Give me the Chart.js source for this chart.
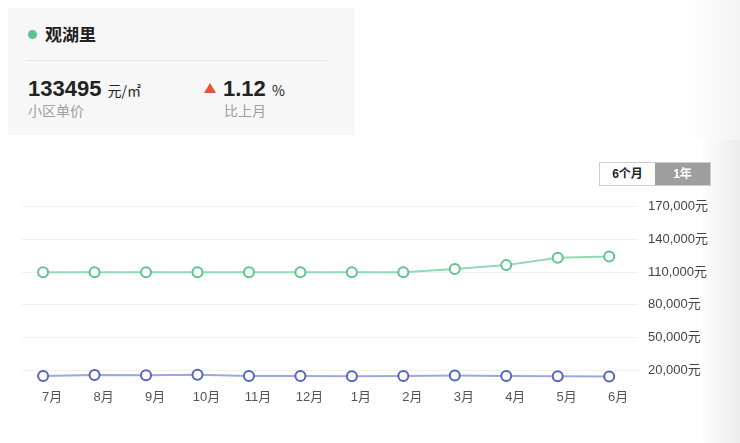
<!DOCTYPE html>
<html>
<head>
<meta charset="utf-8">
<script src="https://cdn.jsdelivr.net/npm/chart.js@4"></script>
<style>
  body { margin: 0; width: 740px; height: 443px; background: #fff; position: relative; overflow: hidden;
         font-family: "Liberation Sans", "Noto Sans CJK SC", sans-serif; color: #222; }
  .card { position: absolute; left: 8px; top: 8px; width: 346px; height: 127px; background: #f7f7f7; }
  .dot { position: absolute; left: 20px; top: 22px; width: 9px; height: 9px; border-radius: 50%; background: #5ec48f; }
  .name { position: absolute; left: 37px; top: 14px; font-size: 17px; font-weight: bold; font-family: "Noto Sans CJK SC", sans-serif; line-height: 24px; }
  .sep { position: absolute; left: 19px; top: 52px; width: 300px; height: 1px; background: #e8e8e8; }
  .big { position: absolute; top: 68px; font-size: 22px; font-weight: bold; line-height: 26px; }
  .unit { font-size: 14px; font-weight: normal; font-family: "Noto Sans CJK SC", sans-serif; }
  .sub { position: absolute; top: 93px; font-size: 14px; color: #a0a0a0; line-height: 18px; font-family: "Noto Sans CJK SC", sans-serif; }
  .tri { position: absolute; left: 196px; top: 75px; width: 0; height: 0;
         border-left: 6px solid transparent; border-right: 6px solid transparent; border-bottom: 10px solid #e5553e; }
  .tabs { position: absolute; left: 599px; top: 162px; height: 22px; border: 1px solid #ccc; display: flex; font-size: 12px; font-weight: bold; }
  .tabs div { width: 55px; text-align: center; line-height: 22px; }
  .tabs .on { background: #9e9e9e; color: #fff; }
  .shade { position: absolute; top: 140px; right: 0; width: 40px; height: 303px; background: linear-gradient(to right, rgba(240,240,240,0), #ececec); }
  .shade2 { position: absolute; top: 0; right: 0; width: 50px; height: 140px; background: linear-gradient(to right, rgba(245,245,245,0), #f3f3f3); }
  #wrap { position: absolute; left: 0; top: 189px; width: 740px; height: 214px; }
</style>
</head>
<body>
<div class="shade2"></div>
<div class="shade"></div>
<div class="card">
  <div class="dot"></div>
  <div class="name">观湖里</div>
  <div class="sep"></div>
  <div class="big" style="left:20px">133495 <span class="unit">元/㎡</span></div>
  <div class="sub" style="left:20px">小区单价</div>
  <div class="tri"></div>
  <div class="big" style="left:215px">1.12 <span class="unit">%</span></div>
  <div class="sub" style="left:216px">比上月</div>
</div>
<div class="tabs"><div>6个月</div><div class="on">1年</div></div>
<div id="wrap"><canvas id="priceChart"></canvas></div>
<script>
// 月份与价格数据
const months = ["7月", "8月", "9月", "10月", "11月", "12月", "1月", "2月", "3月", "4月", "5月", "6月"];
const communityPrice = [110000, 110000, 110000, 110000, 110000, 110000, 110000, 110000, 113000, 116500, 123300, 124500];
const areaPrice = [14800, 15700, 15500, 16000, 14700, 14700, 14600, 14800, 15300, 14800, 14500, 14300];
const yTicks = [20000, 50000, 80000, 110000, 140000, 170000];

const axisFont = { size: 13, family: "'Liberation Sans', 'Noto Sans CJK SC', sans-serif" };

const ctx = document.getElementById("priceChart").getContext("2d");
new Chart(ctx, {
  type: "line",
  data: {
    datasets: [
      {
        data: communityPrice.map((v, i) => ({ x: i, y: v })),
        borderColor: "#8fdab2",
        borderWidth: 2,
        pointRadius: 5,
        pointBorderWidth: 2,
        pointBorderColor: "#5ec48f",
        pointBackgroundColor: "#fff",
        tension: 0,
      },
      {
        data: areaPrice.map((v, i) => ({ x: i, y: v })),
        borderColor: "#9da8df",
        borderWidth: 2,
        pointRadius: 5,
        pointBorderWidth: 2,
        pointBorderColor: "#5664b8",
        pointBackgroundColor: "#fff",
        tension: 0,
      },
    ],
  },
  options: {
    responsive: true,
    maintainAspectRatio: false,
    animation: false,
    layout: { padding: { left: 22, right: 32, top: 10, bottom: 0 } },
    plugins: { legend: { display: false }, tooltip: { enabled: false } },
    scales: {
      x: {
        type: "linear",
        min: -0.41,
        max: 11.56,
        grid: { display: false },
        border: { display: false },
        afterBuildTicks: (s) => { s.ticks = months.map((m, i) => ({ value: i })); },
        ticks: {
          labelOffset: 9,
          padding: -2,
          color: "#555",
          font: axisFont,
          callback: (v) => months[v],
        },
      },
      y: {
        position: "right",
        min: 8000,
        max: 170000,
        afterBuildTicks: (s) => { s.ticks = yTicks.map((v) => ({ value: v })); },
        afterFit: (s) => { s.width = 70; },
        grid: { color: "#f0f0f0", drawTicks: false },
        border: { display: false },
        ticks: {
          padding: 10,
          color: "#444",
          font: axisFont,
          callback: (v) => v.toLocaleString("en-US") + "元",
        },
      },
    },
  },
});
</script>
</body>
</html>
